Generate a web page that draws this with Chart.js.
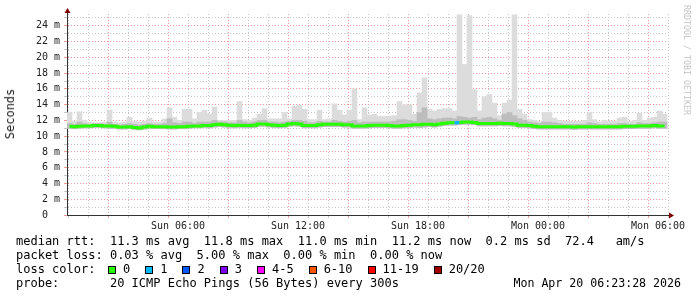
<!DOCTYPE html>
<html>
<head>
<meta charset="utf-8">
<script src="https://cdn.jsdelivr.net/npm/chart.js@4.4.1/dist/chart.umd.min.js"></script>
<style>
  body { margin: 0; background: #fff; }
  #wrap { position: relative; width: 697px; height: 297px; overflow: hidden; font-family: "DejaVu Sans Mono", monospace; }
  canvas { position: absolute; left: 0; top: 0; }
  .txt { position: absolute; margin: 0; font-size: 12px; line-height: 14px; color: #000; white-space: pre; }
  #ylab { position: absolute; left: 10px; top: 114px; font-size: 12px; color: #222; transform: translate(-50%, -50%) rotate(-90deg); white-space: pre; }
  #wm { position: absolute; left: 687px; top: 60px; font-size: 8.3px; color: #c4c4c4; transform: translate(-50%, -50%) rotate(90deg); white-space: pre; }
  .box { display: inline-block; width: 6px; height: 6px; border: 1px solid #000; vertical-align: -1px; margin-right: 7px; }
  .item { margin-right: 15px; }
</style>
</head>
<body>
<div id="wrap">
  <canvas id="chart" width="697" height="297"></canvas>
  <div id="ylab">Seconds</div>
  <div id="wm">RRDTOOL / TOBI OETIKER</div>
  <pre class="txt" style="left:16px;top:234px">median rtt:  11.3 ms avg  11.8 ms max  11.0 ms min  11.2 ms now  0.2 ms sd  72.4   am/s</pre>
  <pre class="txt" style="left:16px;top:248px">packet loss: 0.03 % avg  5.00 % max  0.00 % min  0.00 % now</pre>
  <pre class="txt" style="left:16px;top:262px">loss color:</pre>
  <div class="txt" id="lossLegend" style="left:108px;top:262px"></div>
  <pre class="txt" style="left:16px;top:276px">probe:       20 ICMP Echo Pings (56 Bytes) every 300s</pre>
  <pre class="txt" style="right:16px;top:276px;font-size:11.6px">Mon Apr 20 06:23:28 2026</pre>
</div>
<script>
// 15 minute bins, first one starts Sun 00:27 (hours since Sun 00:00)
const startHour = 0.45;
const binHours = 0.25;

// smoke: highest ping per bin (ms)
const smokeMax = [
  13.0, 11.9, 13.1, 12.0, 11.8, 11.7, 11.7, 11.8, 13.3, 11.8,
  11.7, 11.8, 12.4, 11.9, 11.8, 11.9, 12.3, 11.8, 11.8, 12.2,
  13.6, 12.4, 12.0, 13.4, 13.4, 12.2, 13.0, 13.3, 12.8, 13.7,
  12.0, 12.0, 12.0, 12.0, 14.4, 12.1, 12.0, 12.3, 12.8, 13.5,
  12.2, 12.2, 12.2, 13.0, 12.2, 13.8, 13.9, 13.4, 12.1, 12.1,
  13.3, 12.1, 12.2, 14.1, 13.3, 12.7, 13.3, 16.0, 12.1, 13.6,
  12.7, 12.8, 12.5, 12.5, 12.5, 12.6, 14.4, 14.0, 14.0, 12.8,
  15.5, 17.4, 13.4, 13.2, 13.4, 13.5, 13.5, 13.2, 25.4, 19.1,
  25.3, 15.9, 13.2, 15.0, 15.3, 14.2, 12.6, 14.2, 14.6, 25.4,
  13.4, 12.8, 12.1, 12.0, 11.9, 13.0, 13.0, 12.3, 12.0, 11.9,
  11.9, 11.9, 11.9, 12.0, 13.0, 12.1, 11.8, 12.0, 11.9, 11.9,
  12.3, 12.4, 11.9, 12.0, 12.9, 12.0, 12.3, 12.4, 13.2, 12.8
];

// smoke: upper edge of the denser (darker) part
const smokeMid = [
  11.6, 11.5, 11.8, 11.6, 11.5, 11.6, 11.6, 11.5, 11.8, 11.5,
  11.4, 11.5, 11.6, 11.5, 11.4, 11.5, 11.6, 11.5, 11.5, 11.6,
  12.2, 11.7, 11.6, 11.8, 11.8, 11.6, 11.8, 11.8, 11.8, 12.0,
  11.8, 11.8, 11.7, 11.7, 12.0, 11.8, 11.7, 11.8, 12.0, 12.0,
  11.8, 11.8, 11.7, 11.8, 11.9, 12.0, 12.0, 11.9, 11.7, 11.7,
  11.9, 11.8, 11.8, 12.0, 11.9, 11.8, 11.9, 12.0, 11.7, 11.8,
  11.8, 11.8, 11.8, 11.8, 11.8, 11.9, 12.1, 12.1, 12.0, 11.9,
  13.0, 13.6, 12.2, 12.1, 12.2, 12.3, 12.3, 12.2, 12.5, 12.4,
  12.3, 12.4, 12.1, 12.3, 12.4, 12.2, 12.0, 12.8, 13.0, 12.6,
  12.2, 12.0, 11.8, 11.7, 11.6, 11.8, 11.8, 11.7, 11.6, 11.5,
  11.5, 11.5, 11.5, 11.5, 11.7, 11.6, 11.5, 11.5, 11.5, 11.5,
  11.6, 11.6, 11.5, 11.5, 11.7, 11.6, 11.6, 11.7, 11.8, 11.8
];

// smoke: lowest ping per bin
const smokeMin = [
  11.0, 10.95, 11.0, 11.05, 11.05, 11.1, 11.1, 11.05, 11.0, 11.0,
  10.9, 10.9, 10.95, 10.85, 10.8, 10.9, 11.0, 10.95, 10.95, 10.95,
  10.9, 10.9, 10.95, 10.95, 11.0, 11.05, 11.05, 11.1, 11.05, 11.15,
  11.2, 11.15, 11.1, 11.05, 11.1, 11.05, 11.05, 11.1, 11.25, 11.25,
  11.15, 11.1, 11.05, 11.1, 11.25, 11.3, 11.25, 11.05, 11.05, 11.05,
  11.15, 11.2, 11.2, 11.2, 11.2, 11.15, 11.15, 11.0, 11.0, 11.0,
  11.05, 11.1, 11.1, 11.1, 11.05, 11.0, 11.0, 11.05, 11.1, 11.15,
  11.1, 11.15, 11.2, 11.15, 11.25, 11.35, 11.4, 11.4, 11.45, 11.5,
  11.5, 11.45, 11.3, 11.3, 11.3, 11.3, 11.35, 11.3, 11.3, 11.25,
  11.1, 11.1, 11.05, 10.95, 10.9, 10.9, 10.9, 10.9, 10.9, 10.9,
  10.9, 10.85, 10.9, 10.9, 10.9, 10.9, 10.9, 10.9, 10.9, 10.9,
  10.9, 10.95, 10.95, 10.95, 11.0, 11.0, 11.0, 11.05, 11.0, 11.0
];

// median rtt per bin
const medianRtt = [
  11.25, 11.2, 11.25, 11.3, 11.3, 11.35, 11.35, 11.3, 11.3, 11.25,
  11.15, 11.15, 11.2, 11.1, 11.05, 11.15, 11.25, 11.2, 11.2, 11.2,
  11.15, 11.15, 11.2, 11.2, 11.25, 11.3, 11.3, 11.35, 11.35, 11.45,
  11.5, 11.45, 11.4, 11.35, 11.4, 11.35, 11.35, 11.4, 11.55, 11.55,
  11.45, 11.4, 11.35, 11.4, 11.55, 11.6, 11.55, 11.35, 11.35, 11.35,
  11.45, 11.5, 11.5, 11.5, 11.5, 11.45, 11.45, 11.3, 11.3, 11.3,
  11.35, 11.4, 11.4, 11.4, 11.35, 11.3, 11.3, 11.35, 11.4, 11.45,
  11.45, 11.5, 11.5, 11.45, 11.55, 11.65, 11.7, 11.7, 11.75, 11.8,
  11.8, 11.75, 11.6, 11.6, 11.6, 11.6, 11.65, 11.6, 11.6, 11.55,
  11.4, 11.4, 11.35, 11.25, 11.2, 11.2, 11.2, 11.2, 11.2, 11.2,
  11.2, 11.15, 11.2, 11.2, 11.2, 11.2, 11.2, 11.2, 11.2, 11.2,
  11.2, 11.25, 11.25, 11.25, 11.3, 11.3, 11.3, 11.35, 11.3, 11.3
];

// lost pings (of 20) per bin
const lossCount = [
  0, 0, 0, 0, 0, 0, 0, 0, 0, 0,  0, 0, 0, 0, 0, 0, 0, 0, 0, 0,
  0, 0, 0, 0, 0, 0, 0, 0, 0, 0,  0, 0, 0, 0, 0, 0, 0, 0, 0, 0,
  0, 0, 0, 0, 0, 0, 0, 0, 0, 0,  0, 0, 0, 0, 0, 0, 0, 0, 0, 0,
  0, 0, 0, 0, 0, 0, 0, 0, 0, 0,  0, 0, 0, 0, 0, 0, 0, 0, 1, 0,
  0, 0, 0, 0, 0, 0, 0, 0, 0, 0,  0, 0, 0, 0, 0, 0, 0, 0, 0, 0,
  0, 0, 0, 0, 0, 0, 0, 0, 0, 0,  0, 0, 0, 0, 0, 0, 0, 0, 0, 0
];

const lossLabels = ['0', '1', '2', '3', '4-5', '6-10', '11-19', '20/20'];
const lossColors = ['#26ff00', '#00b8ff', '#0059ff', '#7e00ff', '#ff00ff', '#ff5500', '#ff0000', '#a10000'];
const lossUpper = [0, 1, 2, 3, 5, 10, 19, 20];

const xGridHours = [1, 2, 3, 4, 5, 6, 7, 8, 9, 10, 11, 12, 13, 14, 15, 16, 17, 18, 19, 20, 21, 22, 23, 24, 25, 26, 27, 28, 29, 30];
const xTickHours = [6, 12, 18, 24, 30];
const xTickLabels = ['Sun 06:00', 'Sun 12:00', 'Sun 18:00', 'Mon 00:00', 'Mon 06:00'];
const yTickValues = [0, 1, 2, 3, 4, 5, 6, 7, 8, 9, 10, 11, 12, 13, 14, 15, 16, 17, 18, 19, 20, 21, 22, 23, 24, 25];

const minorGrid = '#c6c6c6';
const majorGrid = '#f29c9c';
const monoFont = 'DejaVu Sans Mono';

function lossColor(n) {
  for (let k = 0; k < lossUpper.length; k++) {
    if (n <= lossUpper[k]) return lossColors[k];
  }
  return lossColors[lossColors.length - 1];
}

// legend boxes
const legendEl = document.getElementById('lossLegend');
lossLabels.forEach((lbl, k) => {
  const box = document.createElement('span');
  box.className = 'box';
  box.style.background = lossColors[k];
  const t = document.createElement('span');
  t.className = 'item';
  t.textContent = lbl;
  legendEl.appendChild(box);
  legendEl.appendChild(t);
});

const binCenter = smokeMax.map((v, i) => startHour + binHours * (i + 0.5));

const axisArrows = {
  id: 'axisArrows',
  afterDraw(chart) {
    const { ctx, chartArea: a } = chart;
    const x0 = Math.round(a.left) + 0.5;
    const y0 = Math.round(a.bottom) + 0.5;
    ctx.save();
    ctx.strokeStyle = '#333';
    ctx.lineWidth = 1;
    ctx.beginPath();
    ctx.moveTo(x0, a.top);
    ctx.lineTo(x0, a.top - 3);
    ctx.moveTo(a.right, y0);
    ctx.lineTo(a.right + 2, y0);
    ctx.stroke();
    ctx.fillStyle = '#7f0000';
    ctx.beginPath();
    ctx.moveTo(x0 - 3, a.top - 1);
    ctx.lineTo(x0 + 3, a.top - 1);
    ctx.lineTo(x0, a.top - 6);
    ctx.closePath();
    ctx.fill();
    ctx.beginPath();
    ctx.moveTo(a.right + 1, y0 - 3);
    ctx.lineTo(a.right + 1, y0 + 3);
    ctx.lineTo(a.right + 6, y0);
    ctx.closePath();
    ctx.fill();
    ctx.restore();
  }
};

new Chart(document.getElementById('chart'), {
  type: 'bar',
  data: {
    datasets: [
      {
        type: 'line',
        label: 'median rtt',
        data: binCenter.map((x, i) => ({ x: x, y: medianRtt[i] })),
        stepped: 'middle',
        borderWidth: 3,
        pointRadius: 0,
        fill: false,
        borderColor: '#26ff00',
        segment: { borderColor: c => lossColor(lossCount[c.p1DataIndex]) },
        order: 0
      },
      {
        label: 'smoke dense',
        data: binCenter.map((x, i) => ({ x: x, y: [smokeMin[i], smokeMid[i]] })),
        backgroundColor: '#bdbdbd',
        borderWidth: 0,
        grouped: false,
        barPercentage: 1,
        categoryPercentage: 1,
        order: 1
      },
      {
        label: 'smoke',
        data: binCenter.map((x, i) => ({ x: x, y: [smokeMin[i], smokeMax[i]] })),
        backgroundColor: '#dcdcdc',
        borderWidth: 0,
        grouped: false,
        barPercentage: 1,
        categoryPercentage: 1,
        order: 2
      }
    ]
  },
  options: {
    responsive: false,
    animation: false,
    devicePixelRatio: 1,
    layout: { padding: { left: 0, right: 29, top: 14, bottom: 62 } },
    plugins: { legend: { display: false }, tooltip: { enabled: false } },
    scales: {
      x: {
        type: 'linear',
        min: startHour,
        max: 30.5,
        offset: false,
        afterBuildTicks: s => { s.ticks = xGridHours.map(v => ({ value: v })); },
        afterFit: s => { s.height = 20; },
        ticks: {
          autoSkip: false,
          maxRotation: 0,
          padding: 2,
          color: '#222',
          font: { family: monoFont, size: 10 },
          callback: v => {
            const k = xTickHours.indexOf(v);
            return k >= 0 ? xTickLabels[k] : '';
          }
        },
        grid: {
          color: c => (c.tick && c.tick.value % 3 === 0) ? majorGrid : minorGrid,
          tickLength: 3,
          lineWidth: 1
        },
        border: { display: true, color: '#333', width: 1, dash: [1, 2] }
      },
      y: {
        min: 0,
        max: 25.5,
        afterBuildTicks: s => { s.ticks = yTickValues.map(v => ({ value: v })); },
        afterFit: s => { s.width = 67; },
        ticks: {
          autoSkip: false,
          padding: 4,
          color: '#222',
          font: { family: monoFont, size: 10 },
          callback: v => v === 0 ? '0  ' : (v % 2 === 0 ? v + ' m' : '')
        },
        grid: {
          color: c => (c.tick && c.tick.value % 2 === 0) ? majorGrid : minorGrid,
          tickLength: 3,
          lineWidth: 1
        },
        border: { display: true, color: '#333', width: 1, dash: [1, 2] }
      }
    }
  },
  plugins: [axisArrows]
});
</script>
</body>
</html>
